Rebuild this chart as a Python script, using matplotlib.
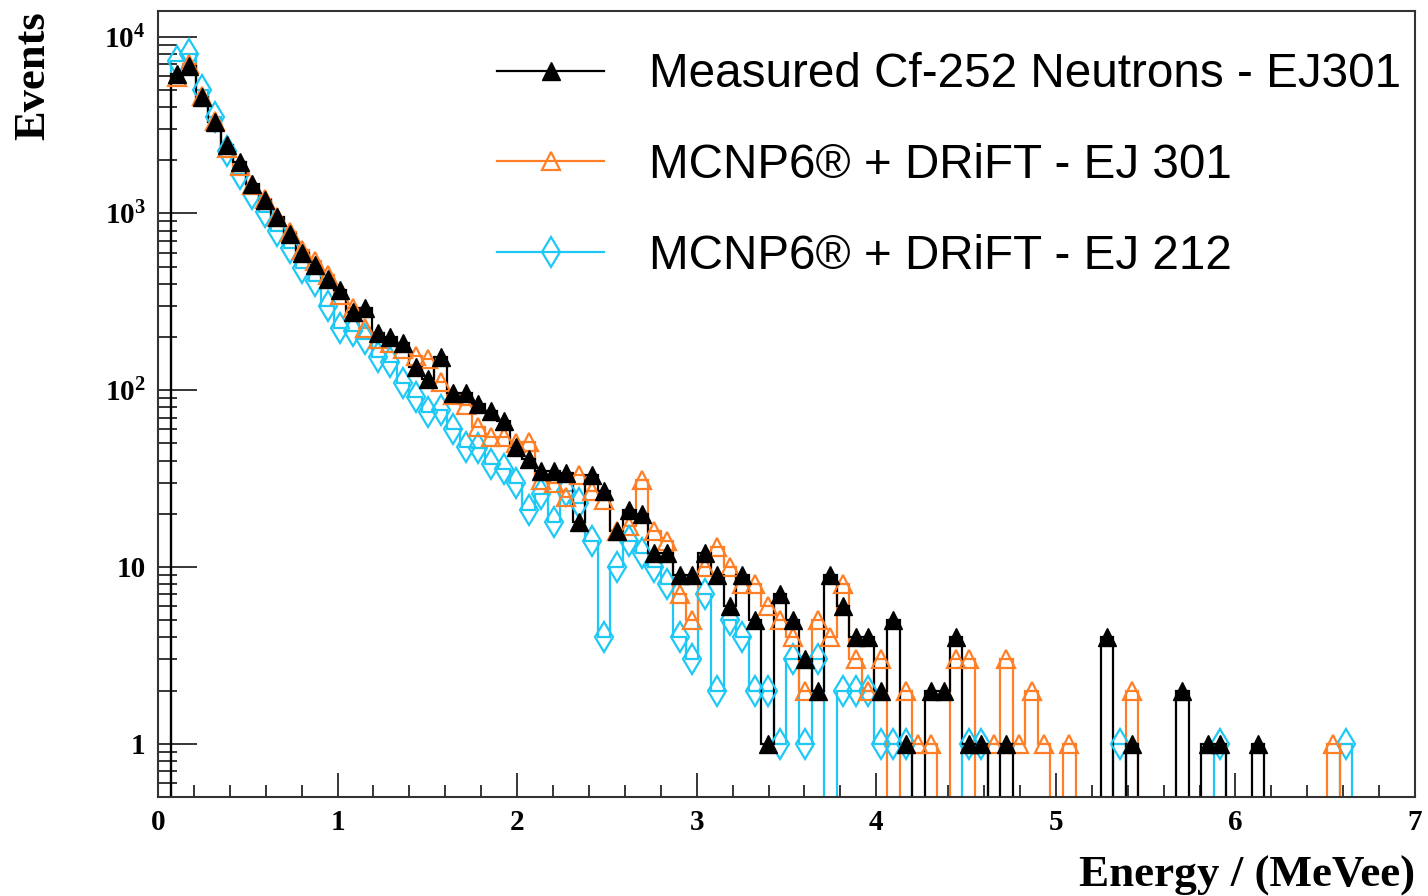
import numpy as np
import matplotlib
matplotlib.use("Agg")
import matplotlib.pyplot as plt
from matplotlib.lines import Line2D
from matplotlib.ticker import FixedLocator, LogLocator, FuncFormatter, MultipleLocator

# ==============================
# DATA : 100 bins, 0 - 7 MeVee
# ==============================
bin_edges = np.linspace(0.0, 7.0, 101)

measured_ej301 = [
    0, 6150, 6800, 4550, 3270, 2430, 1950, 1470, 1185, 950,
    765, 600, 508, 425, 370, 276, 290, 210, 200, 185,
    135, 116, 154, 97, 97, 83, 76, 67, 48, 41,
    35, 35, 34, 18, 33, 27, 16, 21, 20, 12,
    12, 9, 9, 12, 9, 6, 9, 5, 1, 7,
    5, 3, 2, 9, 6, 4, 4, 2, 5, 1,
    0, 2, 2, 4, 1, 1, 0, 1, 0, 0,
    0, 0, 0, 0, 0, 4, 0, 1, 0, 0,
    0, 2, 0, 1, 1, 0, 0, 1, 0, 0,
    0, 0, 0, 0, 0, 0, 0, 0, 0, 0,
]

mcnp_ej301 = [
    0, 5900, 7000, 4600, 3350, 2350, 1850, 1450, 1200, 960,
    780, 620, 540, 450, 345, 290, 225, 195, 185, 170,
    157, 150, 111, 94, 82, 62, 54, 54, 50, 51,
    31, 30, 25, 33, 27, 24, 16, 17, 31, 16,
    14, 7, 5, 10, 13, 10, 8, 8, 6, 5,
    4, 2, 5, 4, 8, 3, 2, 3, 0, 2,
    1, 1, 0, 3, 3, 0, 1, 3, 1, 2,
    1, 0, 1, 0, 0, 0, 0, 2, 0, 0,
    0, 0, 0, 0, 0, 0, 0, 0, 0, 0,
    0, 0, 0, 1, 0, 0, 0, 0, 0, 0,
]

mcnp_ej212 = [
    0, 7300, 8000, 5000, 3500, 2250, 1670, 1280, 1020, 790,
    640, 490, 415, 300, 225, 215, 195, 155, 144, 110,
    92, 75, 77, 60, 48, 47, 38, 36, 30, 21,
    26, 18, 27, 23, 14, 4, 10, 14, 12, 10,
    8, 4, 3, 7, 2, 5, 4, 2, 2, 1,
    3, 1, 3, 0, 2, 2, 2, 1, 1, 1,
    0, 0, 0, 0, 1, 1, 0, 0, 0, 0,
    0, 0, 0, 0, 0, 0, 1, 0, 0, 0,
    0, 0, 0, 0, 1, 0, 0, 0, 0, 0,
    0, 0, 0, 0, 1, 0, 0, 0, 0, 0,
]

labels = ["Measured Cf-252 Neutrons - EJ301",
          "MCNP6\u00ae + DRiFT - EJ 301",
          "MCNP6\u00ae + DRiFT - EJ 212"]

# ==============================
# Style
# ==============================
plt.rcParams['mathtext.fontset'] = 'custom'
plt.rcParams['mathtext.rm'] = 'Liberation Serif:bold'
plt.rcParams['mathtext.bf'] = 'Liberation Serif:bold'
plt.rcParams['mathtext.it'] = 'Liberation Serif:bold:italic'

ORANGE = '#ff7f27'
CYAN = '#1ec8f5'
FRAME = '#333333'

fig = plt.figure(figsize=(14.28, 8.96), dpi=100)
ax = fig.add_axes([0.1106, 0.1105, 0.8803, 0.8775])

centers = 0.5 * (bin_edges[1:] + bin_edges[:-1])
LOW = 1e-3   # empty bins drop below the frame like ROOT's log view

series = [
    (mcnp_ej212, CYAN, 'd', dict(mfc='none', mec=CYAN, mew=1.6, ms=15)),
    (mcnp_ej301, ORANGE, '^', dict(mfc='none', mec=ORANGE, mew=1.6, ms=13)),
    (measured_ej301, 'black', '^', dict(mfc='black', mec='black', mew=1.0, ms=13)),
]
for vals, col, mk, mstyle in series:
    v = np.asarray(vals, dtype=float)
    ax.stairs(np.where(v > 0, v, LOW), bin_edges, baseline=None,
              color=col, lw=1.6)
    ok = v > 0
    ax.plot(centers[ok], v[ok], linestyle='none', marker=mk, **mstyle)

ax.set_yscale('log')
ax.set_xlim(0, 7)
ax.set_ylim(0.5, 1.4e4)

# ROOT-like axes
for s in ax.spines.values():
    s.set_color(FRAME)
    s.set_linewidth(1.5)

ax.xaxis.set_major_locator(MultipleLocator(1))
ax.xaxis.set_minor_locator(MultipleLocator(0.2))
ax.yaxis.set_major_locator(FixedLocator([1, 10, 100, 1000, 10000]))
ax.yaxis.set_minor_locator(LogLocator(base=10, subs=np.arange(2, 10), numticks=20))


def yfmt(v, pos):
    if v < 5:
        return '1'
    if v < 50:
        return '10'
    return r'$\mathregular{10^{%d}}$' % round(np.log10(v))


ax.yaxis.set_major_formatter(FuncFormatter(yfmt))
ax.xaxis.set_major_formatter(FuncFormatter(lambda v, p: '%d' % round(v)))

ax.tick_params(axis='y', which='major', direction='in', length=28, width=1.1, pad=9)
ax.tick_params(axis='y', which='minor', direction='in', length=14, width=1.1)
ax.tick_params(axis='x', which='major', direction='in', length=17, width=1.1, pad=9)
ax.tick_params(axis='x', which='minor', direction='in', length=8.5, width=1.1)
for lab in ax.get_xticklabels() + ax.get_yticklabels():
    lab.set_fontfamily('Liberation Serif')
    lab.set_fontweight('bold')
    lab.set_fontsize(21)

ax.set_ylabel('Events', loc='top', fontfamily='Liberation Serif',
              fontweight='bold', fontsize=32)
ax.yaxis.set_label_coords(-0.083, 1.0)
ax.set_xlabel('Energy / (MeVee)', loc='right', fontfamily='Liberation Serif',
              fontweight='bold', fontsize=32.5)
ax.xaxis.set_label_coords(1.0, -0.075)

# Legend
handles = [
    Line2D([], [], color='black', lw=1.6, marker='^', ms=13, mfc='black', mec='black'),
    Line2D([], [], color=ORANGE, lw=1.6, marker='^', ms=13, mfc='none', mec=ORANGE, mew=1.6),
    Line2D([], [], color=CYAN, lw=1.6, marker='d', ms=15, mfc='none', mec=CYAN, mew=1.6),
]
fig.legend(handles, labels, loc='upper left', bbox_to_anchor=(0.348, 0.9416),
           frameon=False, prop={'family': 'Liberation Sans', 'size': 34.3},
           handlelength=2.25, handletextpad=0.94, labelspacing=0.96,
           borderpad=0, borderaxespad=0)

fig.savefig('out.png', dpi=100)
